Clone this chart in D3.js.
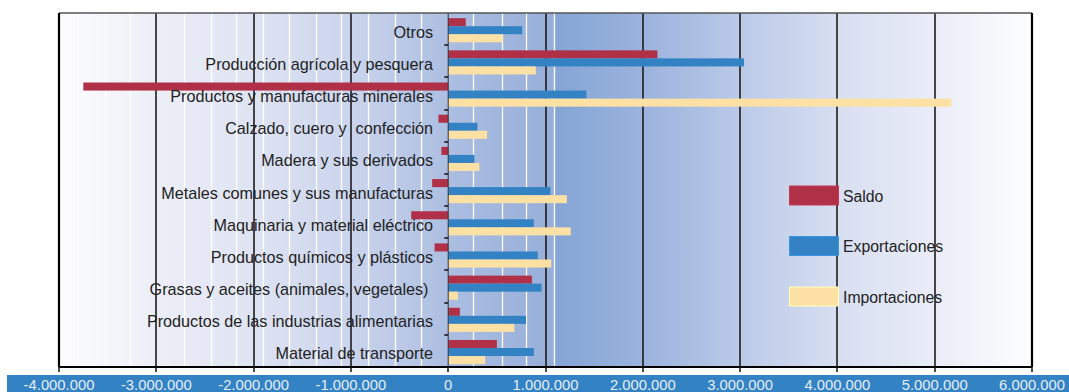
<!DOCTYPE html>
<html><head><meta charset="utf-8">
<script src="https://cdn.jsdelivr.net/npm/d3@7/dist/d3.min.js"></script>
<style>
html,body{margin:0;padding:0;background:#fff;}
svg{display:block;}
text{font-family:"Liberation Sans",Arial,sans-serif;}
</style></head>
<body>
<svg id="chart" width="1069" height="392"></svg>
<script>
const categories = [
  "Otros",
  "Producción agrícola y pesquera",
  "Productos y manufacturas minerales",
  "Calzado, cuero y  confección",
  "Madera y sus derivados",
  "Metales comunes y sus manufacturas",
  "Maquinaria y material eléctrico",
  "Productos químicos y plásticos",
  "Grasas y aceites (animales, vegetales) ",
  "Productos de las industrias alimentarias",
  "Material de transporte"
];
const saldo =         [ 180000, 2150000, -3750000, -100000, -70000, -165000, -380000, -140000, 860000, 120000, 500000];
const exportaciones = [ 760000, 3040000,  1420000,  300000, 270000, 1050000,  880000,  920000, 960000, 800000, 880000];
const importaciones = [ 560000,  900000,  5170000,  400000, 320000, 1220000, 1260000, 1060000, 100000, 680000, 380000];
const seriesNames = ["Saldo", "Exportaciones", "Importaciones"];
const tickValues = [-4000000,-3000000,-2000000,-1000000,0,1000000,2000000,3000000,4000000,5000000,6000000];
const tickLabels = ["-4.000.000","-3.000.000","-2.000.000","-1.000.000","0","1.000.000","2.000.000","3.000.000","4.000.000","5.000.000","6.000.000"];
const minorGrid = [-3810000,-3530000,-3270000,-2720000,-2440000,-2180000,-1900000,-1640000,-1360000,-1100000,-820000,-550000,-280000,260000,550000,800000,1090000];

const colors = ["#b03047","#3282c4","#fde0a3"];
const svg = d3.select("#chart");
const m = {left:59, right:1069-1032, top:13, bottom:392-367};
const W = 1069, H = 392;
const x = d3.scaleLinear().domain([-4000000,6000000]).range([m.left, W-m.right]);
const y = d3.scaleBand().domain(categories).range([m.top, H-m.bottom]);
const bw = y.bandwidth();

const defs = svg.append("defs");
const g1 = defs.append("linearGradient").attr("id","gl").attr("x1","0").attr("x2","1").attr("y1","0").attr("y2","0");
g1.append("stop").attr("offset","0").attr("stop-color","#fdfdff");
g1.append("stop").attr("offset","0.2").attr("stop-color","#eceef7");
g1.append("stop").attr("offset","0.4").attr("stop-color","#dee3f2");
g1.append("stop").attr("offset","0.6").attr("stop-color","#c9d3ec");
g1.append("stop").attr("offset","0.8").attr("stop-color","#aabde1");
g1.append("stop").attr("offset","1").attr("stop-color","#96aed9");
const g2 = defs.append("linearGradient").attr("id","gr").attr("x1","0").attr("x2","1").attr("y1","0").attr("y2","0");
g2.append("stop").attr("offset","0").attr("stop-color","#84a5d5");
g2.append("stop").attr("offset","0.2").attr("stop-color","#9db4de");
g2.append("stop").attr("offset","0.4").attr("stop-color","#bccbe8");
g2.append("stop").attr("offset","0.6").attr("stop-color","#d8dff1");
g2.append("stop").attr("offset","0.8").attr("stop-color","#eaedf7");
g2.append("stop").attr("offset","1").attr("stop-color","#fefeff");

const split = minorGrid[minorGrid.length-1];
svg.append("rect").attr("x",x(-4000000)).attr("y",m.top).attr("width",x(split)-x(-4000000)).attr("height",H-m.bottom-m.top).attr("fill","url(#gl)");
svg.append("rect").attr("x",x(split)).attr("y",m.top).attr("width",x(6000000)-x(split)).attr("height",H-m.bottom-m.top).attr("fill","url(#gr)");

// minor white grid
svg.append("g").selectAll("line").data(minorGrid).join("line")
  .attr("x1",d=>Math.round(x(d))+0.5).attr("x2",d=>Math.round(x(d))+0.5)
  .attr("y1",m.top).attr("y2",H-m.bottom)
  .attr("stroke","#ffffff").attr("stroke-width",1.3);

// major black grid
svg.append("g").selectAll("line").data(tickValues.filter(d=>d!==0 && d!==-4000000 && d!==6000000)).join("line")
  .attr("x1",d=>Math.round(x(d))).attr("x2",d=>Math.round(x(d)))
  .attr("y1",m.top).attr("y2",H-m.bottom)
  .attr("stroke","#1c1c1c").attr("stroke-width",1.6);

// bars
const series = [saldo, exportaciones, importaciones];
const barH = bw*0.25;
const bars = svg.append("g");
series.forEach((vals,si)=>{
  bars.selectAll(null).data(categories).join("rect")
    .attr("x",(c,i)=>Math.min(x(0),x(vals[i])))
    .attr("width",(c,i)=>Math.abs(x(vals[i])-x(0)))
    .attr("y",c=>y(c)+bw*0.16+si*barH)
    .attr("height",barH)
    .attr("fill",colors[si]);
});

// zero axis
svg.append("line").attr("x1",x(0)).attr("x2",x(0)).attr("y1",m.top).attr("y2",H-m.bottom).attr("stroke","#333").attr("stroke-width",1);
svg.append("g").selectAll("line").data(categories.slice(1)).join("line")
  .attr("x1",x(0)-4).attr("x2",x(0)).attr("y1",c=>Math.round(y(c))).attr("y2",c=>Math.round(y(c)))
  .attr("stroke","#111").attr("stroke-width",1.5);

// category labels
svg.append("g").selectAll("text").data(categories).join("text")
  .attr("x",433).attr("y",c=>y(c)+bw/2+8.5)
  .attr("text-anchor","end").attr("font-size",16.2).attr("fill","#222")
  .style("white-space","pre")
  .text(c=>c);

// frame
svg.append("line").attr("x1",m.left).attr("x2",W-m.right).attr("y1",m.top).attr("y2",m.top).attr("stroke","#555").attr("stroke-width",1.5);
svg.append("line").attr("x1",m.left).attr("x2",m.left).attr("y1",m.top).attr("y2",H-m.bottom).attr("stroke","#000").attr("stroke-width",2.2);
svg.append("line").attr("x1",W-m.right).attr("x2",W-m.right).attr("y1",m.top).attr("y2",H-m.bottom).attr("stroke","#000").attr("stroke-width",2.2);
svg.append("line").attr("x1",m.left).attr("x2",W-m.right).attr("y1",H-m.bottom).attr("y2",H-m.bottom).attr("stroke","#000").attr("stroke-width",2.2);

// bottom ticks
svg.append("g").selectAll("line").data(tickValues).join("line")
  .attr("x1",d=>Math.round(x(d))).attr("x2",d=>Math.round(x(d)))
  .attr("y1",H-m.bottom).attr("y2",H-m.bottom+5)
  .attr("stroke","#111").attr("stroke-width",1.5);

// axis band
svg.append("rect").attr("x",7).attr("y",375).attr("width",W-7).attr("height",17).attr("fill","#3282c4");
svg.append("g").selectAll("text").data(tickValues).join("text")
  .attr("x",d=>x(d)).attr("y",389.5)
  .attr("text-anchor","middle").attr("font-size",14.8).attr("fill","#e6eef8")
  .text((d,i)=>tickLabels[i]);

// legend
const lg = svg.append("g");
seriesNames.forEach((n,i)=>{
  const ly = 186 + i*50.5;
  lg.append("rect").attr("x",789.5).attr("y",ly).attr("width",49).attr("height",19)
    .attr("fill",colors[i]).attr("stroke",d3.color(colors[i]).brighter(0.4)).attr("stroke-width",1);
  lg.append("text").attr("x",843).attr("y",ly+15.5).attr("font-size",15.8).attr("fill","#222").text(n);
});
</script>
</body></html>
